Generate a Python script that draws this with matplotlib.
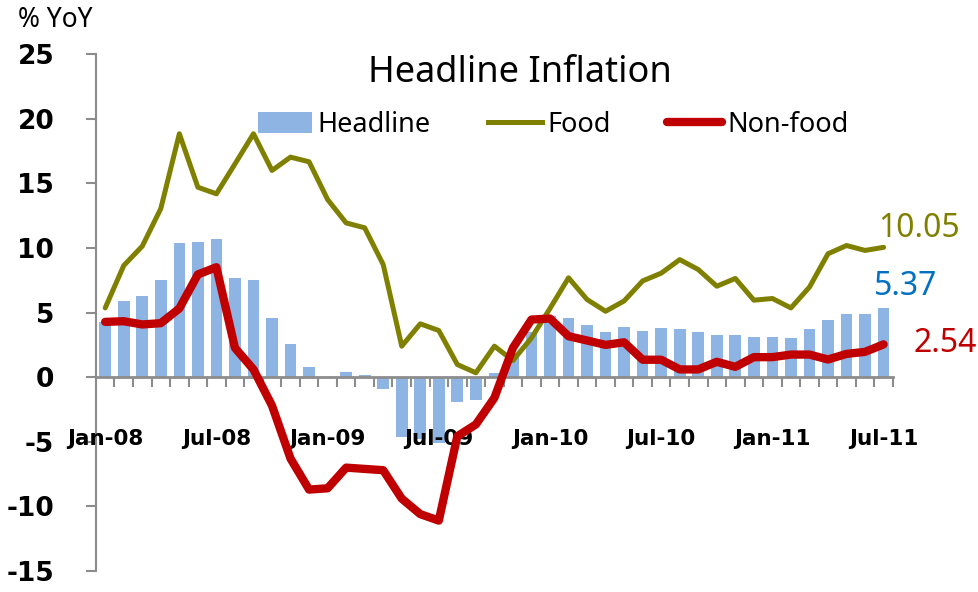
import numpy as np
import matplotlib.pyplot as plt
from matplotlib.patches import Patch
from matplotlib.lines import Line2D

plt.rcParams['font.family'] = ['Noto Sans', 'DejaVu Sans']
plt.rcParams['axes.unicode_minus'] = False

# monthly data Jan-08 .. Jul-11 (% YoY)
headline = [4.3, 5.9, 6.3, 7.5, 10.4, 10.5, 10.7, 7.7, 7.5, 4.6, 2.6, 0.8,
            0.0, 0.4, 0.2, -0.9, -4.6, -4.8, -5.1, -1.9, -1.8, 0.3, 1.9, 3.5,
            4.7, 4.6, 4.0, 3.5, 3.9, 3.6, 3.8, 3.7, 3.5, 3.3, 3.3, 3.1,
            3.1, 3.0, 3.7, 4.4, 4.9, 4.9, 5.37]
food = [5.36, 8.64, 10.14, 13.05, 18.84, 14.7, 14.19, 16.5, 18.84, 16.0, 17.03, 16.67,
        13.75, 11.94, 11.56, 8.72, 2.4, 4.13, 3.61, 0.98, 0.34, 2.4, 1.29, 3.04,
        5.32, 7.69, 6.01, 5.1, 5.9, 7.45, 8.05, 9.1, 8.33, 7.04, 7.64, 5.96,
        6.09, 5.36, 6.97, 9.55, 10.19, 9.81, 10.05]
nonfood = [4.28, 4.33, 4.08, 4.18, 5.32, 7.95, 8.51, 2.27, 0.6, -2.2, -6.3, -8.7,
           -8.6, -7.0, -7.1, -7.2, -9.4, -10.6, -11.1, -4.57, -3.66, -1.6, 2.27, 4.46,
           4.54, 3.17, 2.84, 2.5, 2.7, 1.35, 1.35, 0.6, 0.6, 1.19, 0.8, 1.55,
           1.55, 1.75, 1.75, 1.37, 1.8, 1.96, 2.54]
tick_labels = ['Jan-08', 'Jul-08', 'Jan-09', 'Jul-09', 'Jan-10', 'Jul-10', 'Jan-11', 'Jul-11']

bar_color = '#8DB4E2'
food_color = '#808000'
nonfood_color = '#C00000'
axis_color = '#8C8C8C'

n = len(headline)
x = np.arange(n)

fig = plt.figure(figsize=(9.79, 5.92), dpi=100)
ax = fig.add_axes([0.098, 0.0355, 0.814, 0.873])

# spines first: set_position resets the x ticks
for s in ['top', 'right']:
    ax.spines[s].set_visible(False)
ax.spines['bottom'].set_position(('data', 0))
ax.spines['bottom'].set_color(axis_color)
ax.spines['bottom'].set_linewidth(2)
ax.spines['bottom'].set_zorder(2.5)
ax.spines['left'].set_color(axis_color)
ax.spines['left'].set_linewidth(1.5)

ax.bar(x, headline, width=0.63, color=bar_color, zorder=2)
ax.plot(x, food, color=food_color, lw=3.6, zorder=3, solid_capstyle='round')
ax.plot(x, nonfood, color=nonfood_color, lw=6, zorder=4, solid_capstyle='round')

ax.set_xlim(-0.5, n - 0.5)
ax.set_ylim(-15, 25)
ax.set_yticks(np.arange(-15, 26, 5))
ax.set_xticks(np.arange(0, n, 6))
ax.set_xticks(np.arange(0.5, n, 1), minor=True)

ax.tick_params(axis='y', direction='out', length=7, width=1.5, color=axis_color,
               labelsize=19, pad=23)
ax.tick_params(axis='x', which='major', length=0, pad=37)
ax.tick_params(axis='x', which='minor', direction='out', length=7, width=1.5, color=axis_color)
ax.set_xticklabels(tick_labels, fontsize=15.5, family='DejaVu Sans', weight='bold')
for lab in ax.get_yticklabels():
    lab.set_fontfamily('DejaVu Sans')
    lab.set_fontweight('bold')
# month labels sit above the bars, below the non-food line
ax.xaxis.set_zorder(3.5)

fig.text(0.018, 0.967, '% YoY', fontsize=19, va='center', ha='left')
fig.text(0.531, 0.876, 'Headline Inflation', fontsize=26, ha='center', va='center')

ax.text(41.7, 11.5, '10.05', color=food_color, fontsize=23, va='center', ha='left')
ax.text(41.5, 7.0, '5.37', color='#0070C0', fontsize=23, va='center', ha='left')
ax.text(43.6, 2.6, '2.54', color=nonfood_color, fontsize=23, va='center', ha='left')

handles = [Patch(facecolor=bar_color, edgecolor='none'),
           Line2D([], [], color=food_color, lw=3.6),
           Line2D([], [], color=nonfood_color, lw=6, solid_capstyle='round')]
fig.legend(handles, ['Headline', 'Food', 'Non-food'], loc='center',
           bbox_to_anchor=(0.565, 0.789), ncol=3, frameon=False, fontsize=19.5,
           handlelength=2.0, handleheight=0.85, handletextpad=0.2, columnspacing=2.1,
           borderpad=0)

plt.savefig('out.png', dpi=100)
